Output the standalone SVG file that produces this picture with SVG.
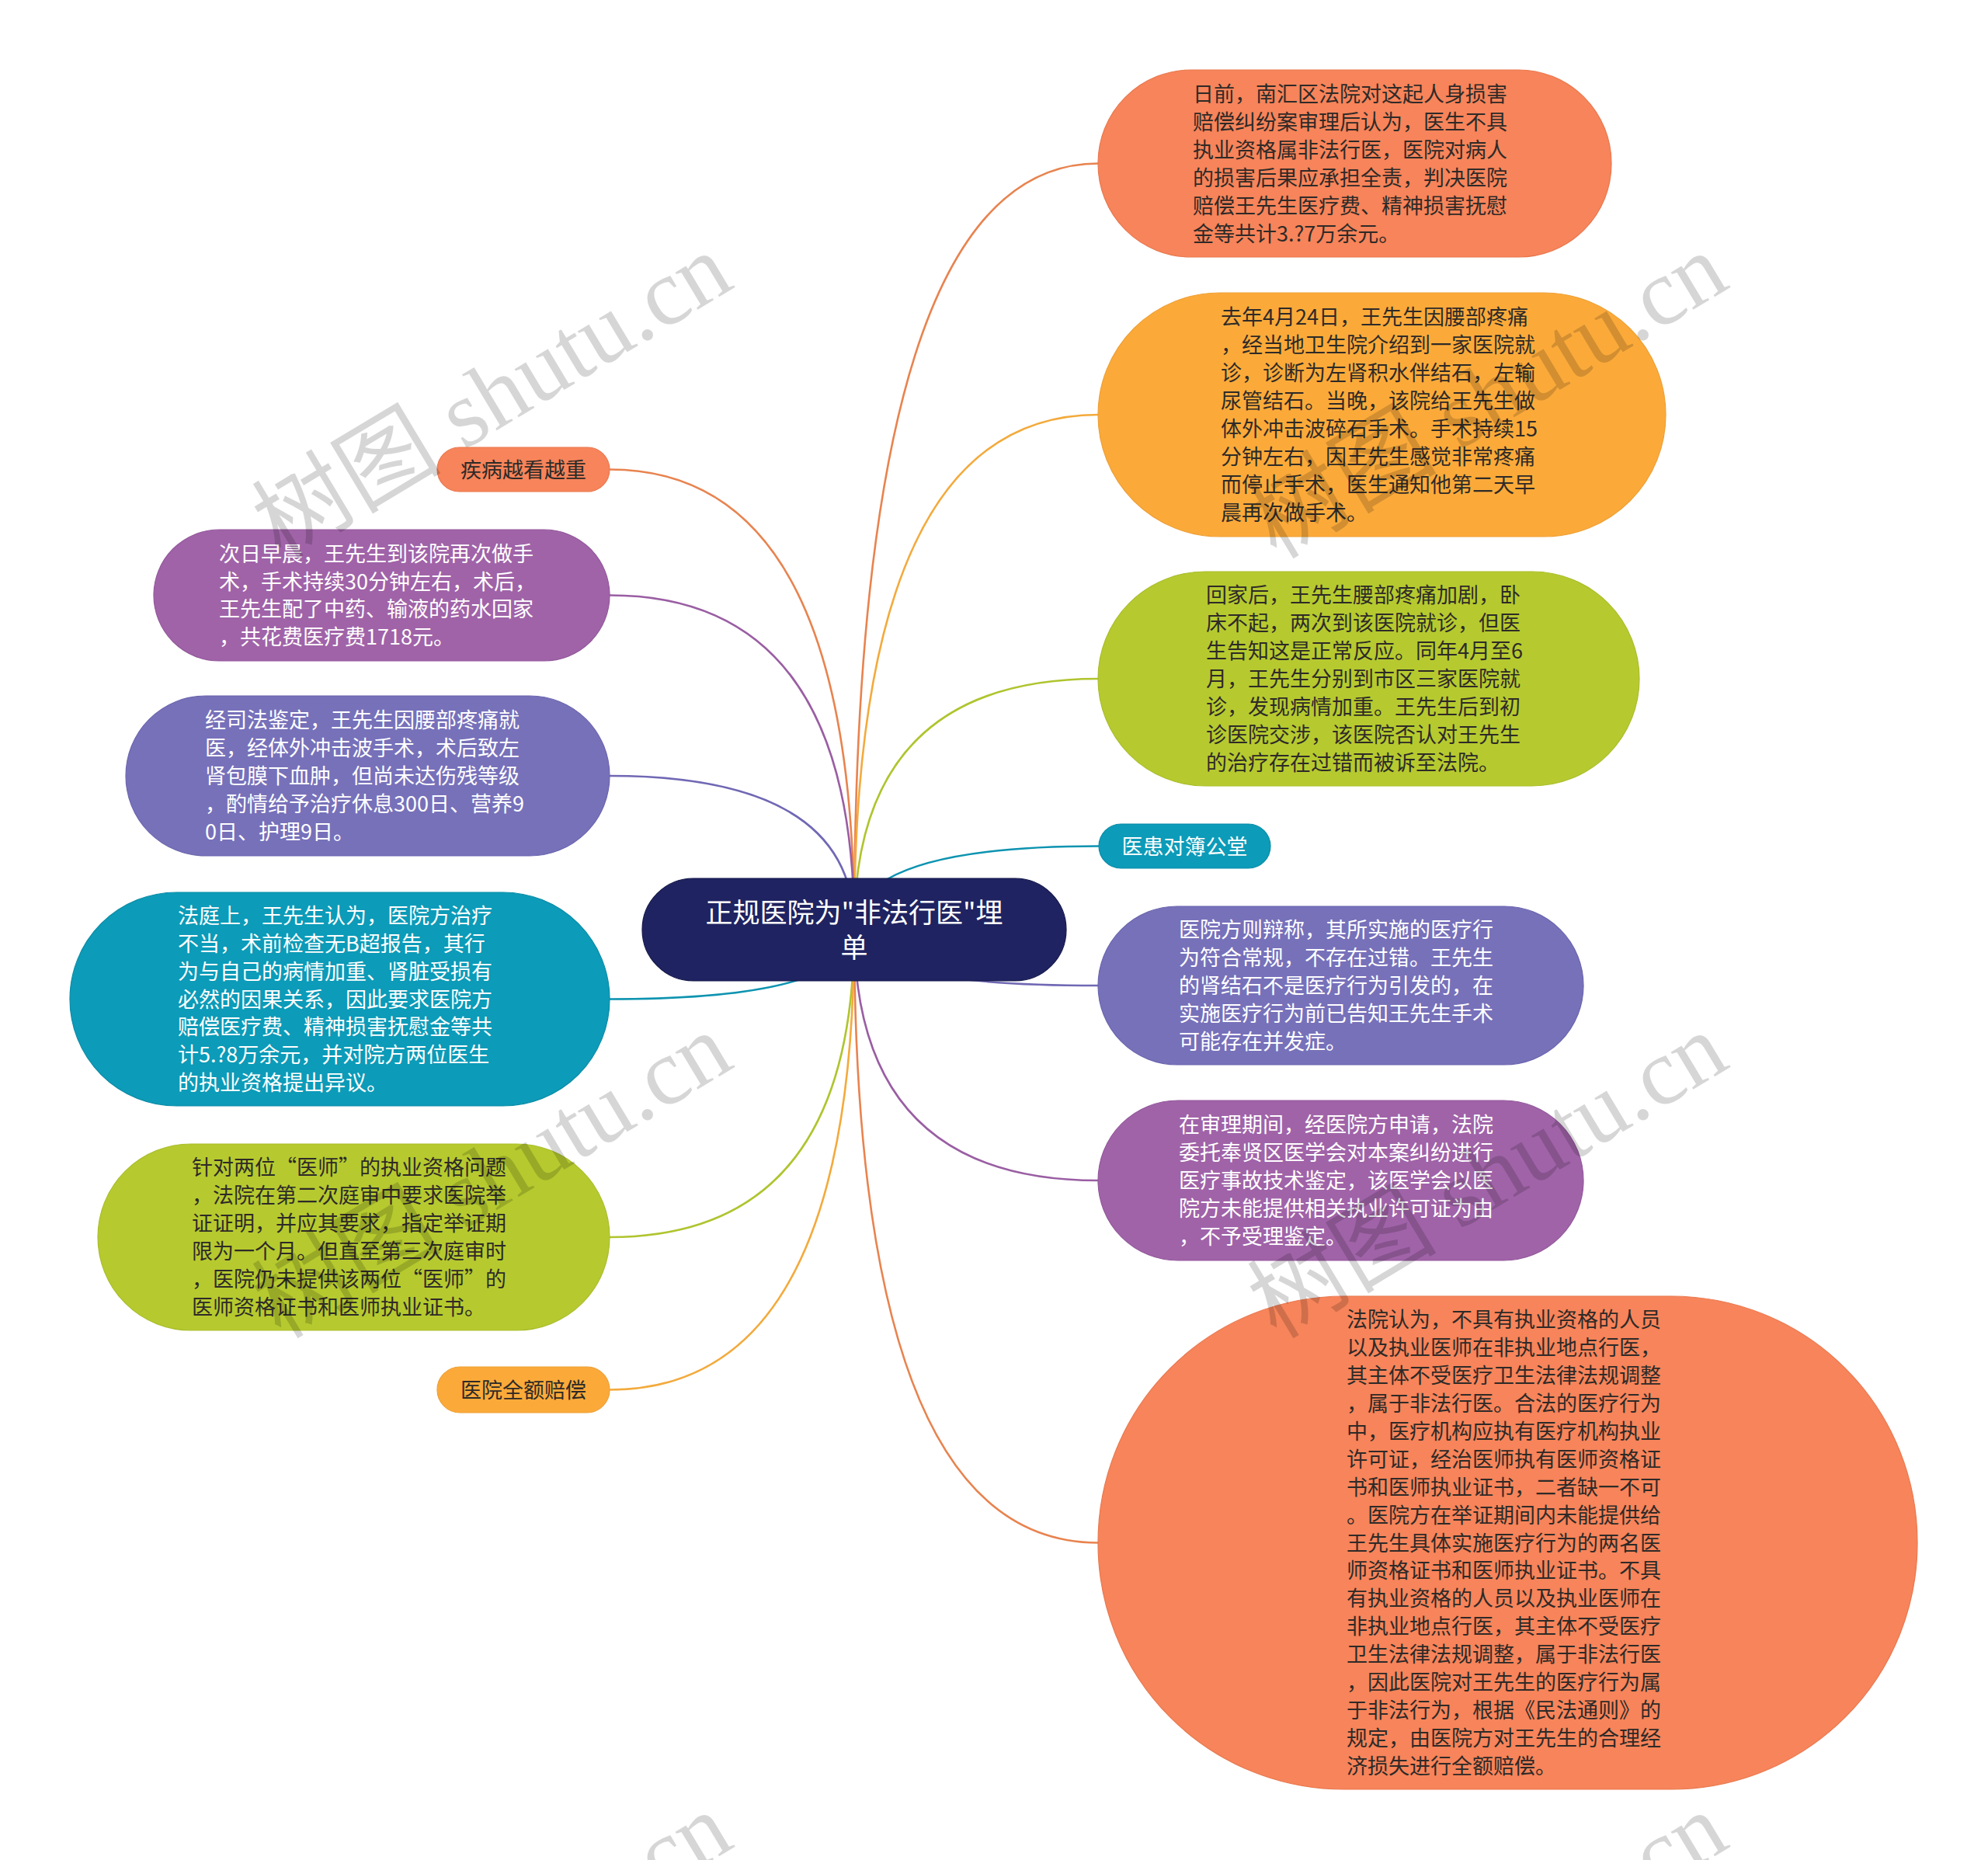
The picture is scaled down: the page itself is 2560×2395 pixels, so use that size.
<svg xmlns="http://www.w3.org/2000/svg" width="2560" height="2395" viewBox="0 0 2560 2395">
<style>
.bg{fill:#ffffff}
.c{fill:none;stroke-width:2.6}
.t{font-family:"Noto Sans CJK SC","Noto Sans",sans-serif;font-size:27px}
.dk{fill:#2e2a28}
.wh{fill:#ffffff}
.mid{text-anchor:middle}
.wm{font-family:"Liberation Serif","Noto Sans CJK SC",serif;font-size:122px;fill:#000;fill-opacity:0.16}
rect{stroke-width:1.2}
.or{fill:#F7845A;stroke:#E9784F}.yl{fill:#FBAA3A;stroke:#EE9F34}.gr{fill:#B6CA2F;stroke:#AABD2A}.tl{fill:#0C9BB8;stroke:#0A8CA7}.pb{fill:#7771BA;stroke:#6B65AE}.pu{fill:#A063A8;stroke:#93579B}.nv{fill:#1F2361;stroke:#141848}
</style>
<rect class="bg" x="0" y="0" width="2560" height="2395" style="stroke:none"/>
<g id="connectors">
<path class="c" stroke="#E8834F" d="M1100 1196 Q1100 210.5 1414 210.5"/>
<path class="c" stroke="#F3AA3C" d="M1100 1196 Q1100 534 1414 534"/>
<path class="c" stroke="#B0C42E" d="M1100 1196 Q1100 874 1414 874"/>
<path class="c" stroke="#0C93B0" d="M1100 1196 Q1100 1089.5 1415 1089.5"/>
<path class="c" stroke="#7068B4" d="M1100 1196 Q1100 1269 1414 1269"/>
<path class="c" stroke="#9A5EA3" d="M1100 1196 Q1100 1520 1414 1520"/>
<path class="c" stroke="#E8834F" d="M1100 1196 Q1100 1986.5 1414 1986.5"/>
<path class="c" stroke="#E8834F" d="M1100 1196 Q1100 604.5 785 604.5"/>
<path class="c" stroke="#9A5EA3" d="M1100 1196 Q1100 766.5 785 766.5"/>
<path class="c" stroke="#7068B4" d="M1100 1196 Q1100 999 785 999"/>
<path class="c" stroke="#0C93B0" d="M1100 1196 Q1100 1286.5 785 1286.5"/>
<path class="c" stroke="#B0C42E" d="M1100 1196 Q1100 1593 785 1593"/>
<path class="c" stroke="#F3AA3C" d="M1100 1196 Q1100 1789.5 785 1789.5"/>
</g>
<g id="center">
<rect class="nv" x="827" y="1131" width="546" height="132" rx="66"/>
<text class="t wh mid" style="font-size:35px"><tspan x="1100" y="1188">正规医院为"非法行医"埋</tspan><tspan x="1100" y="1233">单</tspan></text>
</g>
<g id="r1">
<rect class="or" x="1414" y="90" width="661" height="241" rx="120"/>
<text class="t dk"><tspan x="1536" y="131">日前，南汇区法院对这起人身损害</tspan><tspan x="1536" dy="35.9">赔偿纠纷案审理后认为，医生不具</tspan><tspan x="1536" dy="35.9">执业资格属非法行医，医院对病人</tspan><tspan x="1536" dy="35.9">的损害后果应承担全责，判决医院</tspan><tspan x="1536" dy="35.9">赔偿王先生医疗费、精神损害抚慰</tspan><tspan x="1536" dy="35.9">金等共计3.?7万余元。</tspan></text>
</g>
<g id="r2">
<rect class="yl" x="1414" y="377" width="731" height="314" rx="157"/>
<text class="t dk"><tspan x="1572" y="418.4">去年4月24日，王先生因腰部疼痛</tspan><tspan x="1572" dy="35.9">，经当地卫生院介绍到一家医院就</tspan><tspan x="1572" dy="35.9">诊，诊断为左肾积水伴结石，左输</tspan><tspan x="1572" dy="35.9">尿管结石。当晚，该院给王先生做</tspan><tspan x="1572" dy="35.9">体外冲击波碎石手术。手术持续15</tspan><tspan x="1572" dy="35.9">分钟左右，因王先生感觉非常疼痛</tspan><tspan x="1572" dy="35.9">而停止手术，医生通知他第二天早</tspan><tspan x="1572" dy="35.9">晨再次做手术。</tspan></text>
</g>
<g id="r3">
<rect class="gr" x="1414" y="736" width="697" height="276" rx="138"/>
<text class="t dk"><tspan x="1553" y="776.3">回家后，王先生腰部疼痛加剧，卧</tspan><tspan x="1553" dy="35.9">床不起，两次到该医院就诊，但医</tspan><tspan x="1553" dy="35.9">生告知这是正常反应。同年4月至6</tspan><tspan x="1553" dy="35.9">月，王先生分别到市区三家医院就</tspan><tspan x="1553" dy="35.9">诊，发现病情加重。王先生后到初</tspan><tspan x="1553" dy="35.9">诊医院交涉，该医院否认对王先生</tspan><tspan x="1553" dy="35.9">的治疗存在过错而被诉至法院。</tspan></text>
</g>
<g id="r4">
<rect class="tl" x="1415" y="1061" width="221" height="57" rx="28.5"/>
<text class="t wh mid" x="1525.5" y="1099.5">医患对簿公堂</text>
</g>
<g id="r5">
<rect class="pb" x="1414" y="1167" width="625" height="204" rx="102"/>
<text class="t wh"><tspan x="1518" y="1207.2">医院方则辩称，其所实施的医疗行</tspan><tspan x="1518" dy="35.9">为符合常规，不存在过错。王先生</tspan><tspan x="1518" dy="35.9">的肾结石不是医疗行为引发的，在</tspan><tspan x="1518" dy="35.9">实施医疗行为前已告知王先生手术</tspan><tspan x="1518" dy="35.9">可能存在并发症。</tspan></text>
</g>
<g id="r6">
<rect class="pu" x="1414" y="1417" width="625" height="206" rx="103"/>
<text class="t wh"><tspan x="1518" y="1458.2">在审理期间，经医院方申请，法院</tspan><tspan x="1518" dy="35.9">委托奉贤区医学会对本案纠纷进行</tspan><tspan x="1518" dy="35.9">医疗事故技术鉴定，该医学会以医</tspan><tspan x="1518" dy="35.9">院方未能提供相关执业许可证为由</tspan><tspan x="1518" dy="35.9">，不予受理鉴定。</tspan></text>
</g>
<g id="r7">
<rect class="or" x="1414" y="1669" width="1055" height="635" rx="317"/>
<text class="t dk"><tspan x="1734" y="1709.3">法院认为，不具有执业资格的人员</tspan><tspan x="1734" dy="35.9">以及执业医师在非执业地点行医，</tspan><tspan x="1734" dy="35.9">其主体不受医疗卫生法律法规调整</tspan><tspan x="1734" dy="35.9">，属于非法行医。合法的医疗行为</tspan><tspan x="1734" dy="35.9">中，医疗机构应执有医疗机构执业</tspan><tspan x="1734" dy="35.9">许可证，经治医师执有医师资格证</tspan><tspan x="1734" dy="35.9">书和医师执业证书，二者缺一不可</tspan><tspan x="1734" dy="35.9">。医院方在举证期间内未能提供给</tspan><tspan x="1734" dy="35.9">王先生具体实施医疗行为的两名医</tspan><tspan x="1734" dy="35.9">师资格证书和医师执业证书。不具</tspan><tspan x="1734" dy="35.9">有执业资格的人员以及执业医师在</tspan><tspan x="1734" dy="35.9">非执业地点行医，其主体不受医疗</tspan><tspan x="1734" dy="35.9">卫生法律法规调整，属于非法行医</tspan><tspan x="1734" dy="35.9">，因此医院对王先生的医疗行为属</tspan><tspan x="1734" dy="35.9">于非法行为，根据《民法通则》的</tspan><tspan x="1734" dy="35.9">规定，由医院方对王先生的合理经</tspan><tspan x="1734" dy="35.9">济损失进行全额赔偿。</tspan></text>
</g>
<g id="l1">
<rect class="or" x="563" y="576" width="222" height="57" rx="28.5"/>
<text class="t dk mid" x="674" y="614.5">疾病越看越重</text>
</g>
<g id="l2">
<rect class="pu" x="198" y="682" width="587" height="169" rx="84.5"/>
<text class="t wh"><tspan x="282" y="722.6">次日早晨，王先生到该院再次做手</tspan><tspan x="282" dy="35.9">术，手术持续30分钟左右，术后，</tspan><tspan x="282" dy="35.9">王先生配了中药、输液的药水回家</tspan><tspan x="282" dy="35.9">，共花费医疗费1718元。</tspan></text>
</g>
<g id="l3">
<rect class="pb" x="162" y="896" width="623" height="206" rx="103"/>
<text class="t wh"><tspan x="264" y="937.2">经司法鉴定，王先生因腰部疼痛就</tspan><tspan x="264" dy="35.9">医，经体外冲击波手术，术后致左</tspan><tspan x="264" dy="35.9">肾包膜下血肿，但尚未达伤残等级</tspan><tspan x="264" dy="35.9">，酌情给予治疗休息300日、营养9</tspan><tspan x="264" dy="35.9">0日、护理9日。</tspan></text>
</g>
<g id="l4">
<rect class="tl" x="90" y="1149" width="695" height="275" rx="137.5"/>
<text class="t wh"><tspan x="229" y="1188.8">法庭上，王先生认为，医院方治疗</tspan><tspan x="229" dy="35.9">不当，术前检查无B超报告，其行</tspan><tspan x="229" dy="35.9">为与自己的病情加重、肾脏受损有</tspan><tspan x="229" dy="35.9">必然的因果关系，因此要求医院方</tspan><tspan x="229" dy="35.9">赔偿医疗费、精神损害抚慰金等共</tspan><tspan x="229" dy="35.9">计5.?8万余元，并对院方两位医生</tspan><tspan x="229" dy="35.9">的执业资格提出异议。</tspan></text>
</g>
<g id="l5">
<rect class="gr" x="126" y="1473" width="659" height="240" rx="120"/>
<text class="t dk"><tspan x="247" y="1513.3">针对两位“医师”的执业资格问题</tspan><tspan x="247" dy="35.9">，法院在第二次庭审中要求医院举</tspan><tspan x="247" dy="35.9">证证明，并应其要求，指定举证期</tspan><tspan x="247" dy="35.9">限为一个月。但直至第三次庭审时</tspan><tspan x="247" dy="35.9">，医院仍未提供该两位“医师”的</tspan><tspan x="247" dy="35.9">医师资格证书和医师执业证书。</tspan></text>
</g>
<g id="l6">
<rect class="yl" x="563" y="1760" width="222" height="59" rx="29.5"/>
<text class="t dk mid" x="674" y="1799.5">医院全额赔偿</text>
</g>
<g id="watermarks">
<text class="wm" text-anchor="middle" transform="translate(655 545) rotate(-31)">树图 shutu.cn</text>
<text class="wm" text-anchor="middle" transform="translate(1937 545) rotate(-31)">树图 shutu.cn</text>
<text class="wm" text-anchor="middle" transform="translate(655 1549) rotate(-31)">树图 shutu.cn</text>
<text class="wm" text-anchor="middle" transform="translate(1937 1549) rotate(-31)">树图 shutu.cn</text>
<text class="wm" text-anchor="middle" transform="translate(655 2553) rotate(-31)">树图 shutu.cn</text>
<text class="wm" text-anchor="middle" transform="translate(1937 2553) rotate(-31)">树图 shutu.cn</text>
</g>
</svg>
